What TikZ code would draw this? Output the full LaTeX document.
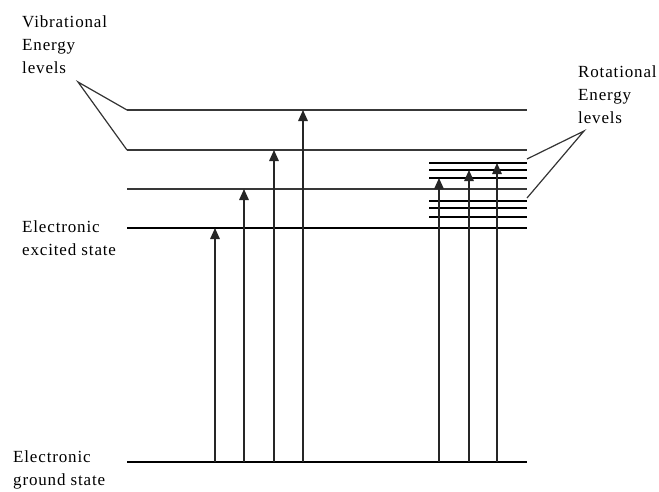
\documentclass[tikz,border=0pt]{standalone}
\usepackage{fontspec}
\setmainfont{Liberation Serif}[LetterSpace=5]
\usetikzlibrary{arrows.meta}
\begin{document}
\begin{tikzpicture}[x=1pt,y=-1pt,
  lbl/.style={anchor=north west, inner sep=0pt, align=left, font=\fontsize{17}{23}\selectfont},
  thinlevel/.style={line width=1.4pt, draw=black!78},
  rotlevel/.style={line width=1.3pt, draw=black},
  thicklevel/.style={line width=2.8pt, draw=black},
  trans/.style={line width=1.5pt, draw=black!85, -{Triangle[width=9.5pt,length=11pt]}},
  callout/.style={line width=1.2pt, draw=black!80}]
\useasboundingbox (0,0) rectangle (659,491);
% labels
\node[lbl] (vib) at (22,15.4) {Vibrational\\Energy\\levels};
\node[lbl] (rot) at (578,65.4) {Rotational\\Energy\\levels};
\node[lbl] (exc) at (22,220.4) {Electronic\\excited state};
\node[lbl] (gnd) at (13,450.4) {Electronic\\ground state};
% level end points
\coordinate (g0) at (127,462); \coordinate (g1) at (527,462);
\coordinate (e0) at (127,228); \coordinate (e1) at (527,228);
\coordinate (v10) at (127,189); \coordinate (v11) at (527,189);
\coordinate (v20) at (127,150); \coordinate (v21) at (527,150);
\coordinate (v30) at (127,110); \coordinate (v31) at (527,110);
\foreach \y/\n in {163/1,170/2,178/3,201/4,208/5,217/6}{
  \coordinate (r\n a) at (429,\y); \coordinate (r\n b) at (527,\y);
}
% levels
\draw[thicklevel] (g0) -- (g1);
\draw[thicklevel] (e0) -- (e1);
\draw[thinlevel] (v10) -- (v11);
\draw[thinlevel] (v20) -- (v21);
\draw[thinlevel] (v30) -- (v31);
\foreach \n in {1,...,6}{\draw[rotlevel] (r\n a) -- (r\n b);}
% callouts
\coordinate (vp) at (78,82);
\coordinate (rp) at (584,131);
\coordinate (rc1) at (527,159);
\coordinate (rc2) at (527,198);
\draw[callout] (v30) -- (vp) -- (v20);
\draw[callout] (rc1) -- (rp) -- (rc2);
% transitions
\foreach \x/\y/\n in {215/228/1,244/189/2,274/150/3,303/110/4,439/178/5,469/170/6,497/163/7}{
  \coordinate (s\n) at (\x,462); \coordinate (t\n) at (\x,\y);
  \draw[trans] (s\n) -- (t\n);
}
\end{tikzpicture}
\end{document}
